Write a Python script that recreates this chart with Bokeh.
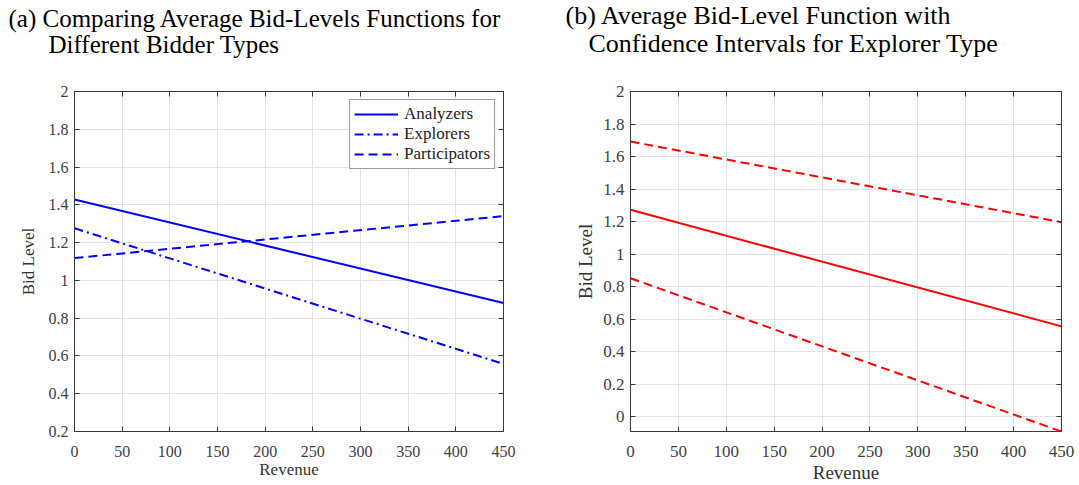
from bokeh.plotting import figure
from bokeh.layouts import row
from bokeh.models import (Range1d, FixedTicker, CustomJSTickFormatter, LinearAxis,
                          Legend, LegendItem, Title)
from bokeh.embed import file_html
from bokeh.resources import INLINE

# ---- data ----
revenue = [0, 450]
analyzers = [1.428, 0.880]
explorers = [1.276, 0.558]
participators = [1.118, 1.340]

explorer_mean = [1.272, 0.555]
explorer_upper = [1.692, 1.196]
explorer_lower = [0.851, -0.092]

x_ticks = [0, 50, 100, 150, 200, 250, 300, 350, 400, 450]
y_ticks_a = [0.2, 0.4, 0.6, 0.8, 1.0, 1.2, 1.4, 1.6, 1.8, 2.0]
y_ticks_b = [0.0, 0.2, 0.4, 0.6, 0.8, 1.0, 1.2, 1.4, 1.6, 1.8, 2.0]

title_a = ["(a) Comparing Average Bid-Levels Functions for", "Different Bidder Types"]
title_b = ["(b) Average Bid-Level Function with", "Confidence Intervals for Explorer Type"]

FONT = "Liberation Serif"
AXC = "#3a3a3a"
TXT = "#404040"
GRID = "#e3e3e3"

fmt = CustomJSTickFormatter(code="return String(Number(tick.toFixed(3)));")
blank = CustomJSTickFormatter(code="return '';")


def make_fig(width, left, right, top, bottom, yr, yticks, tick_fs, lab_fs,
             ylab_standoff, xlab_standoff, titles, offs, title_fs):
    p = figure(width=width, height=485, x_range=Range1d(0, 450), y_range=Range1d(*yr),
               output_backend="svg", toolbar_location=None,
               min_border_left=left, min_border_right=right,
               min_border_top=top, min_border_bottom=bottom)
    p.background_fill_color = "white"
    p.border_fill_color = "white"
    p.outline_line_color = AXC
    p.outline_line_width = 1
    p.xaxis.ticker = FixedTicker(ticks=x_ticks)
    p.yaxis.ticker = FixedTicker(ticks=yticks)
    p.xaxis.formatter = fmt
    p.yaxis.formatter = fmt
    for ax in (p.xaxis[0], p.yaxis[0]):
        ax.major_tick_in = 5
        ax.major_tick_out = 0
        ax.minor_tick_line_color = None
        ax.axis_line_color = AXC
        ax.major_tick_line_color = AXC
        ax.major_label_text_font = FONT
        ax.major_label_text_font_size = tick_fs
        ax.major_label_text_color = TXT
        ax.axis_label_text_font = FONT
        ax.axis_label_text_font_size = lab_fs
        ax.axis_label_text_font_style = "normal"
        ax.axis_label_text_color = "#333333"
    p.xaxis.major_label_standoff = 14
    p.xaxis.axis_label_standoff = xlab_standoff
    p.yaxis.major_label_standoff = 6
    p.yaxis.axis_label_standoff = ylab_standoff
    p.xaxis.axis_label = "Revenue"
    p.yaxis.axis_label = "Bid Level"
    p.xgrid.ticker = FixedTicker(ticks=x_ticks)
    p.ygrid.ticker = FixedTicker(ticks=yticks)
    p.grid.grid_line_color = GRID
    p.grid.grid_line_width = 1

    # ticks on right and top (box style)
    for side, tks in (("right", yticks), ("above", x_ticks)):
        ax = LinearAxis(ticker=FixedTicker(ticks=tks), formatter=blank,
                        major_tick_in=5, major_tick_out=0, minor_tick_line_color=None,
                        axis_line_color=AXC, major_tick_line_color=AXC,
                        major_label_standoff=0)
        p.add_layout(ax, side)
    # invisible spacer between frame and the two-line title
    spacer = LinearAxis(ticker=FixedTicker(ticks=x_ticks), formatter=blank,
                        major_tick_in=0, major_tick_out=23, minor_tick_line_color=None,
                        axis_line_color=None, major_tick_line_color=None,
                        major_label_standoff=0)
    p.add_layout(spacer, "above")

    t2 = Title(text=titles[1], align="left", offset=offs[1], text_font=FONT,
               text_font_size=title_fs, text_font_style="normal", text_color="black",
               standoff=22)
    t1 = Title(text=titles[0], align="left", offset=offs[0], text_font=FONT,
               text_font_size=title_fs, text_font_style="normal", text_color="black",
               standoff=-28)
    p.add_layout(t2, "above")
    p.add_layout(t1, "above")
    return p


pa = make_fig(540, 74, 37, 91, 51, (0.2, 2.0), y_ticks_a, "16px", "17px", 8, 0,
              title_a, (-66, -26), "25px")
r1 = pa.line(revenue, analyzers, line_color="#0000ff", line_width=2)
r2 = pa.line(revenue, explorers, line_color="#0000ff", line_width=2, line_dash="9 4 2 4")
r3 = pa.line(revenue, participators, line_color="#0000ff", line_width=2, line_dash="9 5")
legend = Legend(items=[LegendItem(label="Analyzers", renderers=[r1]),
                       LegendItem(label="Explorers", renderers=[r2]),
                       LegendItem(label="Participators", renderers=[r3])],
                location="top_right")
legend.label_text_font = FONT
legend.label_text_font_size = "17px"
legend.label_text_color = "#222222"
legend.glyph_width = 44
legend.glyph_height = 18
legend.label_height = 18
legend.label_standoff = 6
legend.spacing = 0
legend.padding = 4
legend.margin = 8
legend.border_line_color = AXC
legend.border_line_width = 1
legend.background_fill_alpha = 1
pa.add_layout(legend)

pb = make_fig(539, 90, 18, 91, 54, (-0.092, 2.0), y_ticks_b, "17px", "19px", 4, 2,
              title_b, (-65, -42), "26px")
pb.line(revenue, explorer_mean, line_color="#ff0000", line_width=2)
pb.line(revenue, explorer_upper, line_color="#ff0000", line_width=2, line_dash="9 5")
pb.line(revenue, explorer_lower, line_color="#ff0000", line_width=2, line_dash="9 5")

layout = row(pa, pb)
open("out.html", "w").write(file_html(layout, INLINE))
